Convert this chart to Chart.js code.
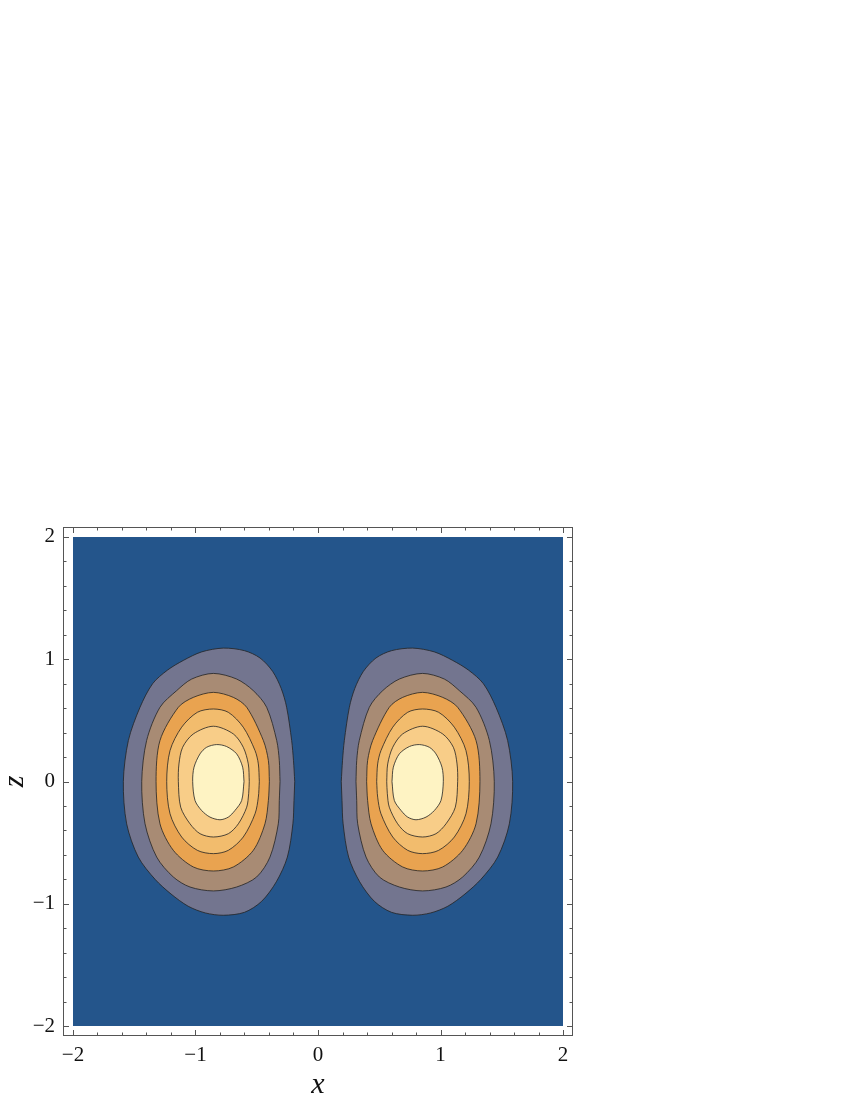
<!DOCTYPE html>
<html>
<head>
<meta charset="utf-8">
<script src="https://cdn.jsdelivr.net/npm/chart.js@4"></script>
<style>
  html, body { margin: 0; padding: 0; background: #fff; }
  canvas { display: block; }
</style>
</head>
<body>
<canvas id="chart" width="850" height="1100"></canvas>
<script>
// tick labels on both axes
const axisTicks = [-2, -1, 0, 1, 2];
const plotRange = [-2, 2];

// contour lines of the left lobe, outermost first, as [x, z]
const leftLobe = [
  [[-0.19,0],[-0.20,0.17],[-0.215,0.335],[-0.256,0.607],[-0.30,0.76],[-0.37,0.90],[-0.473,1.01],[-0.60,1.07],[-0.773,1.091],[-0.95,1.06],[-1.10,0.99],[-1.23,0.91],[-1.35,0.80],[-1.453,0.607],[-1.548,0.335],[-1.589,0],[-1.562,-0.346],[-1.467,-0.618],[-1.33,-0.80],[-1.20,-0.92],[-1.06,-1.02],[-0.92,-1.075],[-0.773,-1.094],[-0.60,-1.07],[-0.46,-0.98],[-0.34,-0.82],[-0.25,-0.618],[-0.205,-0.346],[-0.196,-0.155],[-0.19,0]],
  [[-0.31,0],[-0.316,0.171],[-0.337,0.335],[-0.419,0.607],[-0.528,0.743],[-0.664,0.838],[-0.854,0.884],[-1.031,0.838],[-1.154,0.743],[-1.29,0.607],[-1.399,0.335],[-1.439,0],[-1.412,-0.346],[-1.317,-0.618],[-1.181,-0.781],[-1.045,-0.863],[-0.854,-0.895],[-0.664,-0.863],[-0.501,-0.781],[-0.392,-0.618],[-0.324,-0.346],[-0.316,-0.155],[-0.31,0]],
  [[-0.397,0],[-0.405,0.171],[-0.446,0.335],[-0.582,0.607],[-0.691,0.688],[-0.854,0.729],[-1.018,0.688],[-1.14,0.607],[-1.29,0.335],[-1.322,0],[-1.29,-0.346],[-1.181,-0.563],[-1.018,-0.699],[-0.854,-0.732],[-0.691,-0.699],[-0.528,-0.563],[-0.433,-0.346],[-0.405,-0.155],[-0.397,0]],
  [[-0.479,0],[-0.487,0.144],[-0.514,0.253],[-0.61,0.444],[-0.732,0.566],[-0.854,0.593],[-0.985,0.566],[-1.113,0.444],[-1.208,0.253],[-1.235,0],[-1.208,-0.264],[-1.113,-0.454],[-0.985,-0.563],[-0.854,-0.59],[-0.732,-0.563],[-0.61,-0.454],[-0.514,-0.264],[-0.487,-0.128],[-0.479,0]],
  [[-0.561,0],[-0.569,0.144],[-0.61,0.28],[-0.691,0.389],[-0.854,0.452],[-1.018,0.389],[-1.105,0.28],[-1.135,0.144],[-1.14,0],[-1.121,-0.21],[-1.045,-0.346],[-0.963,-0.427],[-0.854,-0.454],[-0.732,-0.427],[-0.65,-0.346],[-0.582,-0.21],[-0.566,-0.10],[-0.561,0]],
  [[-0.604,0],[-0.615,0.117],[-0.664,0.226],[-0.746,0.286],[-0.827,0.302],[-0.909,0.28],[-0.963,0.226],[-1.012,0.117],[-1.023,0],[-1.004,-0.155],[-0.95,-0.237],[-0.882,-0.291],[-0.80,-0.313],[-0.732,-0.291],[-0.678,-0.237],[-0.623,-0.155],[-0.604,0]]
];

// same for the right lobe
const rightLobe = [
  [[0.19,0],[0.20,0.17],[0.215,0.335],[0.256,0.607],[0.30,0.76],[0.37,0.90],[0.473,1.01],[0.60,1.07],[0.773,1.091],[0.95,1.06],[1.10,0.99],[1.23,0.91],[1.35,0.80],[1.453,0.607],[1.548,0.335],[1.589,0],[1.562,-0.346],[1.467,-0.618],[1.33,-0.80],[1.20,-0.92],[1.06,-1.02],[0.92,-1.075],[0.773,-1.094],[0.60,-1.07],[0.46,-0.98],[0.34,-0.82],[0.25,-0.618],[0.205,-0.346],[0.196,-0.155],[0.19,0]],
  [[0.31,0],[0.316,0.171],[0.337,0.335],[0.419,0.607],[0.528,0.743],[0.664,0.838],[0.854,0.884],[1.031,0.838],[1.154,0.743],[1.29,0.607],[1.399,0.335],[1.439,0],[1.412,-0.346],[1.317,-0.618],[1.181,-0.781],[1.045,-0.863],[0.854,-0.895],[0.664,-0.863],[0.501,-0.781],[0.392,-0.618],[0.324,-0.346],[0.316,-0.155],[0.31,0]],
  [[0.397,0],[0.405,0.171],[0.446,0.335],[0.582,0.607],[0.691,0.688],[0.854,0.729],[1.018,0.688],[1.14,0.607],[1.29,0.335],[1.322,0],[1.29,-0.346],[1.181,-0.563],[1.018,-0.699],[0.854,-0.732],[0.691,-0.699],[0.528,-0.563],[0.433,-0.346],[0.405,-0.155],[0.397,0]],
  [[0.479,0],[0.487,0.144],[0.514,0.253],[0.61,0.444],[0.732,0.566],[0.854,0.593],[0.985,0.566],[1.113,0.444],[1.208,0.253],[1.235,0],[1.208,-0.264],[1.113,-0.454],[0.985,-0.563],[0.854,-0.59],[0.732,-0.563],[0.61,-0.454],[0.514,-0.264],[0.487,-0.128],[0.479,0]],
  [[0.561,0],[0.569,0.144],[0.61,0.28],[0.691,0.389],[0.854,0.452],[1.018,0.389],[1.105,0.28],[1.135,0.144],[1.14,0],[1.121,-0.21],[1.045,-0.346],[0.963,-0.427],[0.854,-0.454],[0.732,-0.427],[0.65,-0.346],[0.582,-0.21],[0.566,-0.10],[0.561,0]],
  [[0.604,0],[0.615,0.117],[0.664,0.226],[0.746,0.286],[0.827,0.302],[0.909,0.28],[0.963,0.226],[1.012,0.117],[1.023,0],[1.004,-0.155],[0.95,-0.237],[0.882,-0.291],[0.80,-0.313],[0.732,-0.291],[0.678,-0.237],[0.623,-0.155],[0.604,0]]
];

const baseColor = "#24558b";
const levelColors = ["#73758f", "#a88b74", "#e9a350", "#f2bc6d", "#f8cd88", "#fef3c3"];

const [lo, hi] = plotRange;
const square = [[lo, lo], [hi, lo], [hi, hi], [lo, hi], [lo, lo]];
const toPoints = (pts) => pts.map(([x, z]) => ({ x, y: z }));

const datasets = [
  {
    data: toPoints(square),
    fill: "shape",
    backgroundColor: baseColor,
    borderColor: "transparent",
    borderWidth: 0,
    tension: 0,
    order: 100,
  },
];
[leftLobe, rightLobe].forEach((lobe) => {
  lobe.forEach((contour, i) => {
    datasets.push({
      data: toPoints(contour),
      fill: "shape",
      backgroundColor: levelColors[i],
      borderColor: "rgba(35,35,35,0.8)",
      borderWidth: 1,
      tension: 0.3,
      order: 50 - i,
    });
  });
});

// minor ticks every 0.2 along the frame
const minorTicks = Array.from({ length: 21 }, (_, i) => lo + i * 0.2);

// frame with inward ticks on all four sides
const frameTicks = {
  id: "frameTicks",
  afterDraw(chart) {
    const { ctx, chartArea: a, scales } = chart;
    const { x, y } = scales;
    ctx.save();
    ctx.strokeStyle = "#555";
    ctx.lineWidth = 1;
    ctx.strokeRect(a.left + 0.5, a.top + 0.5, a.width - 1, a.height - 1);
    ctx.beginPath();
    const mark = (v, len) => {
      const px = Math.round(x.getPixelForValue(v)) + 0.5;
      const py = Math.round(y.getPixelForValue(v)) + 0.5;
      ctx.moveTo(px, a.bottom); ctx.lineTo(px, a.bottom - len);
      ctx.moveTo(px, a.top); ctx.lineTo(px, a.top + len);
      ctx.moveTo(a.left, py); ctx.lineTo(a.left + len, py);
      ctx.moveTo(a.right, py); ctx.lineTo(a.right - len, py);
    };
    minorTicks.forEach((v) => mark(v, 3.5));
    axisTicks.forEach((v) => mark(v, 6));
    ctx.stroke();
    ctx.restore();
  },
};

const tickFont = { family: "Liberation Serif", size: 21 };
const titleFont = { family: "Liberation Serif", size: 30, style: "italic", lineHeight: 1 };
const fmt = (v) => String(v).replace("-", "\u2212");
const setTicks = (scale) => { scale.ticks = axisTicks.map((v) => ({ value: v })); };

new Chart(document.getElementById("chart"), {
  type: "line",
  data: { datasets },
  options: {
    responsive: false,
    animation: false,
    layout: { padding: { top: 527, right: 277, left: 0, bottom: 0 } },
    elements: { point: { radius: 0 } },
    plugins: { legend: { display: false }, tooltip: { enabled: false } },
    scales: {
      x: {
        type: "linear",
        min: -2.0816,
        max: 2.0816,
        grid: { display: false, drawTicks: false },
        border: { display: false },
        afterBuildTicks: setTicks,
        afterFit: (s) => { s.height = 64; },
        ticks: { font: tickFont, color: "#111", padding: 7, callback: fmt },
        title: { display: true, text: "x", font: titleFont, color: "#111", padding: { top: 0, bottom: 0 } },
      },
      y: {
        type: "linear",
        min: -2.0816,
        max: 2.0816,
        grid: { display: false, drawTicks: false },
        border: { display: false },
        afterBuildTicks: setTicks,
        afterFit: (s) => { s.width = 63; },
        ticks: { font: tickFont, color: "#111", padding: 8, callback: fmt },
        title: { display: true, text: "z", font: titleFont, color: "#111", padding: { top: 0, bottom: 0 } },
      },
    },
  },
  plugins: [frameTicks],
});
</script>
</body>
</html>
